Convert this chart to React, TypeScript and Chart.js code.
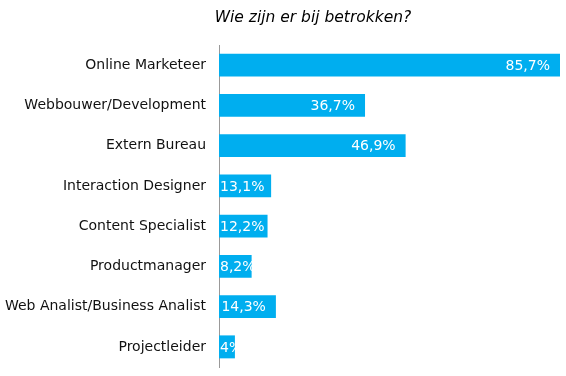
import React, { useEffect, useRef } from "react";
import { Chart, registerables } from "chart.js";

Chart.register(...registerables);

const title = "Wie zijn er bij betrokken?";
const categories = [
  "Online Marketeer",
  "Webbouwer/Development",
  "Extern Bureau",
  "Interaction Designer",
  "Content Specialist",
  "Productmanager",
  "Web Analist/Business Analist",
  "Projectleider",
];
const values = [85.7, 36.7, 46.9, 13.1, 12.2, 8.2, 14.3, 4];
const valueLabels = ["85,7%", "36,7%", "46,9%", "13,1%", "12,2%", "8,2%", "14,3%", "4%"];

const FONT = "'DejaVu Sans', Verdana, sans-serif";

const labelPlugin = {
  id: "valueLabels",
  afterDatasetsDraw(chart: any) {
    const ctx = chart.ctx;
    const meta = chart.getDatasetMeta(0);
    ctx.save();
    ctx.font = `14px ${FONT}`;
    ctx.fillStyle = "#ffffff";
    ctx.textAlign = "right";
    ctx.textBaseline = "middle";
    meta.data.forEach((bar: any, i: number) => {
      const txt = valueLabels[i];
      const w = ctx.measureText(txt).width;
      const x = Math.max(bar.x - 10, bar.base + 1 + w);
      ctx.fillText(txt, x, bar.y + 1);
    });
    ctx.restore();
  },
};

const titlePlugin = {
  id: "offsetTitle",
  afterDraw(chart: any) {
    const ctx = chart.ctx;
    ctx.save();
    ctx.font = `italic 15.5px ${FONT}`;
    ctx.fillStyle = "#000000";
    ctx.textAlign = "center";
    ctx.textBaseline = "middle";
    ctx.fillText(title, 313, 18);
    ctx.restore();
  },
};

export default function App() {
  const ref = useRef<HTMLCanvasElement>(null);
  useEffect(() => {
    if (!ref.current) return;
    const chart = new Chart(ref.current, {
      type: "bar",
      data: {
        labels: categories,
        datasets: [
          {
            data: values,
            backgroundColor: "#00AEEF",
            borderWidth: 0,
            barPercentage: 0.57,
            categoryPercentage: 1,
          },
        ],
      },
      options: {
        indexAxis: "y",
        animation: false,
        responsive: false,
        maintainAspectRatio: false,
        layout: { padding: { top: 45, right: 6, bottom: 9, left: 0 } },
        plugins: {
          legend: { display: false },
          tooltip: { enabled: false },
          title: { display: false },
        },
        scales: {
          x: {
            display: false,
            min: 0,
            max: 85.7,
          },
          y: {
            grid: { display: false, drawTicks: false },
            border: { display: true, color: "#999999", width: 1 },
            ticks: {
              color: "#111111",
              font: { family: FONT, size: 14 },
              padding: 13,
            },
            afterFit: (s: any) => {
              s.width = 219;
              s.paddingTop = 0;
              s.paddingBottom = 0;
            },
          },
        },
      },
      plugins: [labelPlugin, titlePlugin],
    });
    return () => chart.destroy();
  }, []);
  return (
    <div style={{ position: "absolute", left: 0, top: 0, width: 566, height: 376 }}>
      <canvas ref={ref} width={566} height={376} style={{ width: 566, height: 376 }} />
    </div>
  );
}
